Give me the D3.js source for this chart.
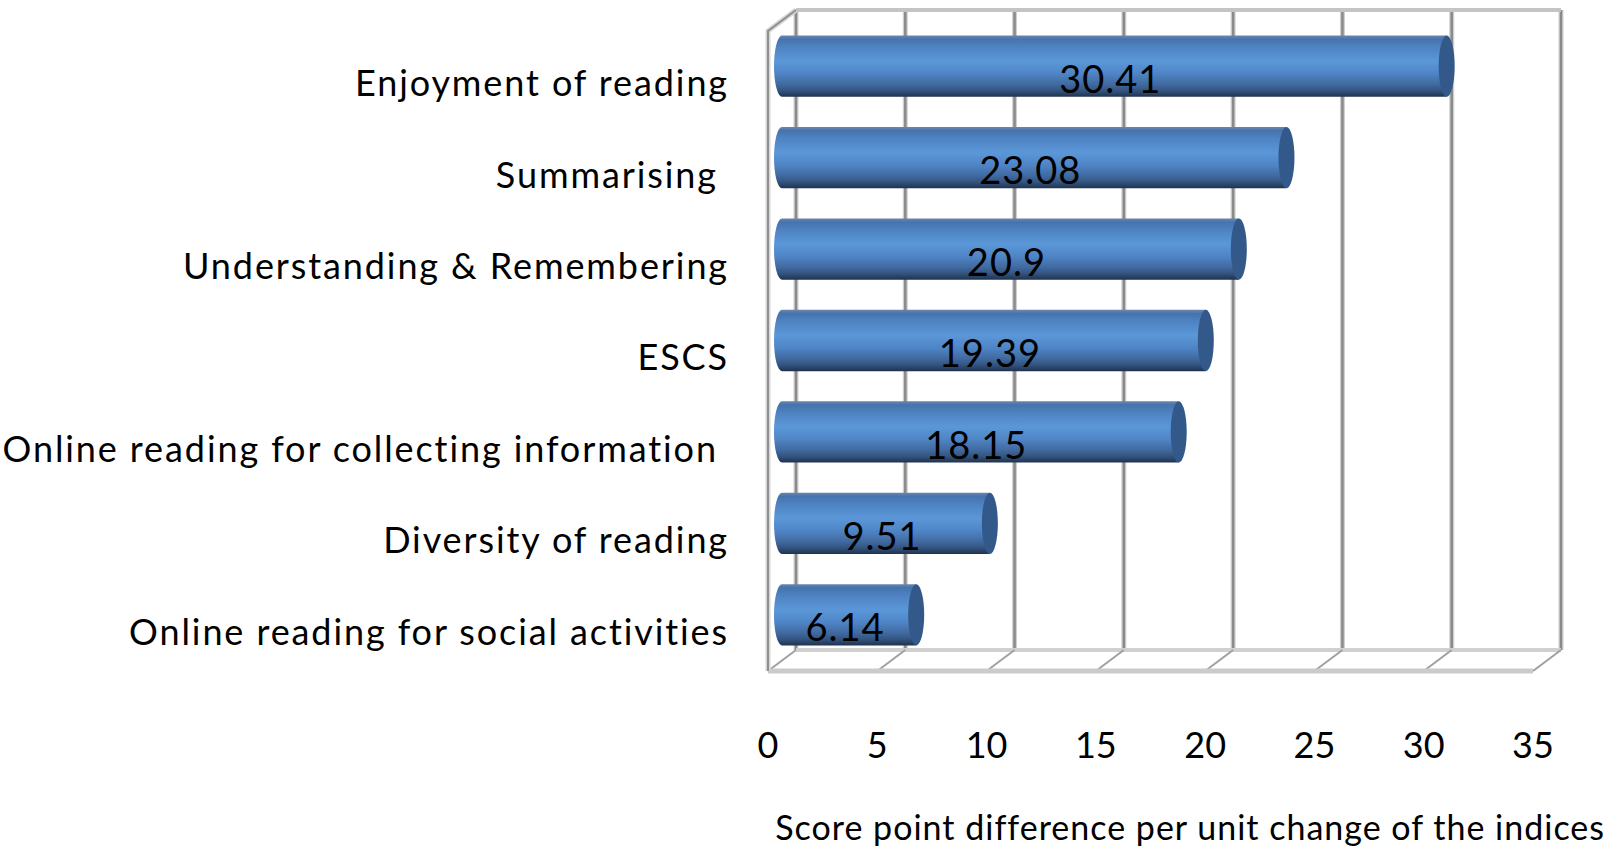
<!DOCTYPE html>
<meta charset="utf-8">
<style>
body { margin: 0; background: #fff; }
text { font-family: Lato, "Noto Sans", sans-serif; fill: #000; white-space: pre; }
.cat { font-size: 36px; letter-spacing: 1.9px; }
.tick { font-size: 36px; }
.val { font-size: 38px; letter-spacing: 1px; }
.title { font-size: 34px; letter-spacing: 1px; }
</style>
<svg id="chart" width="1623" height="849"></svg>
<script src="https://cdn.jsdelivr.net/npm/d3@7"></script>
<script>
// data
var categories = ["Enjoyment of reading", "Summarising ", "Understanding & Remembering",
  "ESCS", "Online reading for collecting information ", "Diversity of reading",
  "Online reading for social activities"];
var values = [30.41, 23.08, 20.9, 19.39, 18.15, 9.51, 6.14];
var valueLabels = ["30.41", "23.08", "20.9", "19.39", "18.15", "9.51", "6.14"];
var ticks = [0, 5, 10, 15, 20, 25, 30, 35];
var axisTitle = "Score point difference per unit change of the indices";

var svg = d3.select("#chart");

// back wall of the 3d box
var back = { x: 796, y: 10, w: 765, h: 640 };
var depth = { dx: -28, dy: 21 };   // front plane offset from back plane

var x = d3.scaleLinear().domain([0, 35]).range([0, back.w]);
var y = d3.scaleBand().domain(categories).range([0, back.h])
    .paddingInner(0.33).paddingOuter(0.165);

var g = svg.append("g").attr("transform", "translate(" + back.x + "," + back.y + ")");

var defs = svg.append("defs");
var grad = defs.append("linearGradient").attr("id", "cyl")
    .attr("x1", 0).attr("y1", 0).attr("x2", 0).attr("y2", 1);
[[0, "#6a86ad"], [0.06, "#4673ad"], [0.2, "#4f84c4"], [0.42, "#5b97d8"],
 [0.62, "#4f85c6"], [0.8, "#40699f"], [0.9, "#33547f"], [1, "#1f324e"]]
  .forEach(function(s) { grad.append("stop").attr("offset", s[0]).attr("stop-color", s[1]); });

// back wall gridlines
g.selectAll(".grid").data(ticks).enter().append("line")
    .attr("x1", d => x(d)).attr("x2", d => x(d))
    .attr("y1", 0).attr("y2", back.h)
    .attr("stroke", "#cfcfcf").attr("stroke-width", 5);
g.selectAll(".grid2").data(ticks).enter().append("line")
    .attr("x1", d => x(d)).attr("x2", d => x(d))
    .attr("y1", 0).attr("y2", back.h)
    .attr("stroke", "#8a8a8a").attr("stroke-width", 2.5);
// top edge of back wall
g.append("line").attr("x1", 0).attr("x2", back.w).attr("y1", 0).attr("y2", 0)
    .attr("stroke", "#c4c4c4").attr("stroke-width", 4);

// floor
g.append("line").attr("x1", 0).attr("x2", back.w).attr("y1", back.h).attr("y2", back.h)
    .attr("stroke", "#d0d0d0").attr("stroke-width", 4);
g.selectAll(".floor").data(ticks).enter().append("line")
    .attr("x1", d => x(d)).attr("y1", back.h)
    .attr("x2", d => x(d) + depth.dx).attr("y2", back.h + depth.dy)
    .attr("stroke", "#a0a0a0").attr("stroke-width", 2);
g.append("line").attr("x1", depth.dx).attr("x2", back.w + depth.dx)
    .attr("y1", back.h + depth.dy).attr("y2", back.h + depth.dy)
    .attr("stroke", "#cbcbcb").attr("stroke-width", 5);

// left wall
g.append("path")
    .attr("d", "M" + depth.dx + "," + (back.h + depth.dy) + "V" + depth.dy + "L0,0")
    .attr("fill", "none").attr("stroke", "#d6d6d6").attr("stroke-width", 5);
g.append("path")
    .attr("d", "M" + depth.dx + "," + (back.h + depth.dy) + "V" + depth.dy + "L0,0")
    .attr("fill", "none").attr("stroke", "#8f8f8f").attr("stroke-width", 2);

// cylinders sit halfway between back and front
var mid = g.append("g").attr("transform", "translate(" + depth.dx / 2 + "," + depth.dy / 2 + ")");
var capR = 8;

var bar = mid.selectAll(".bar").data(categories).enter().append("g").attr("class", "bar");

bar.append("path")
    .attr("d", function(d, i) {
      var y0 = y(d), h = y.bandwidth(), x1 = x(values[i]);
      return "M" + x1 + "," + y0 + "H0" +
        "A" + capR + "," + (h / 2) + " 0 0 0 0," + (y0 + h) +
        "H" + x1 + "Z";
    })
    .attr("fill", "url(#cyl)");

bar.append("ellipse")
    .attr("cx", (d, i) => x(values[i]))
    .attr("cy", d => y(d) + y.bandwidth() / 2)
    .attr("rx", capR).attr("ry", y.bandwidth() / 2)
    .attr("fill", "#33598a");

bar.append("text").attr("class", "val")
    .attr("x", (d, i) => x(values[i]) / 2 - 4)
    .attr("y", d => y(d) + y.bandwidth() - 4)
    .attr("text-anchor", "middle")
    .text((d, i) => valueLabels[i]);

// category labels
g.selectAll(".cat").data(categories).enter().append("text")
    .attr("class", "cat")
    .attr("x", -67)
    .attr("y", d => y(d) + y.bandwidth() / 2 + depth.dy / 2 + 17)
    .attr("dy", "0.36em")
    .attr("text-anchor", "end")
    .text(d => d);

// tick labels along the front edge
g.selectAll(".tick").data(ticks).enter().append("text")
    .attr("class", "tick")
    .attr("x", d => x(d) + depth.dx)
    .attr("y", 735)
    .attr("dy", "0.36em")
    .attr("text-anchor", "middle")
    .text(d => d);

svg.append("text").attr("class", "title")
    .attr("x", 1605).attr("y", 828).attr("dy", "0.36em")
    .attr("text-anchor", "end")
    .text(axisTitle);
</script>
